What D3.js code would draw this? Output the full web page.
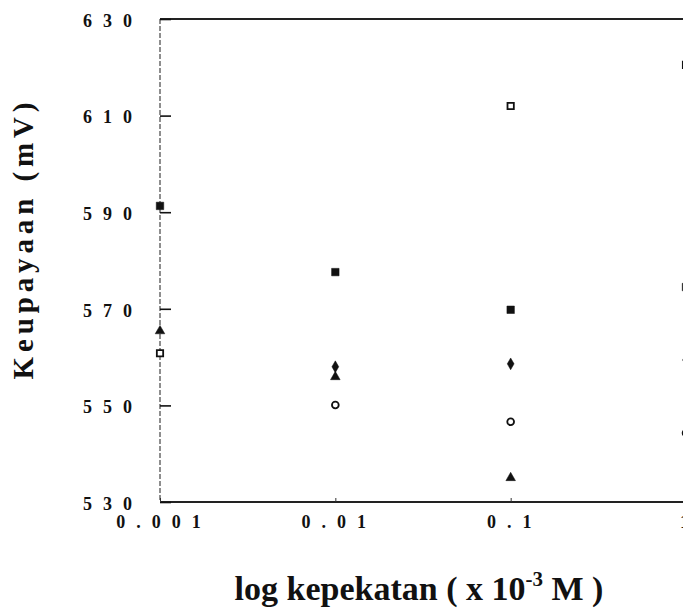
<!DOCTYPE html>
<html>
<head>
<meta charset="utf-8">
<script src="https://cdn.jsdelivr.net/npm/d3@7"></script>
<style>
    body { margin: 0; background: #fff; }
    svg text { font-family: "Liberation Serif", "Times New Roman", serif; font-weight: bold; fill: #111; }
</style>
</head>
<body>
<div id="chart"></div>
<script>
// Data (mV), one value per concentration
const concentrations = [0.001, 0.01, 0.1, 1];
const filledSquare   = [591.3, 577.6, 569.8, 574.5];
const openSquare     = [560.8, null, 612.0, 620.5];
const filledTriangle = [565.4, 555.9, 535.0, null];
const filledDiamond  = [null, 558.0, 558.6, 559.4];
const openCircle     = [null, 550.1, 546.6, 544.3];

const yTicks = [530, 550, 570, 590, 610, 630];
const xTicks = [0.001, 0.01, 0.1, 1];
const xTickLabels = ["0.001", "0.01", "0.1", "1"];

// Marker style for each series
const series = [
    { values: filledSquare,   symbol: d3.symbolSquare,   size: 56, fill: "#111" },
    { values: openSquare,     symbol: d3.symbolSquare,   size: 40, fill: "#fff" },
    { values: filledTriangle, symbol: d3.symbolTriangle, size: 40, fill: "#111" },
    { values: filledDiamond,  symbol: d3.symbolDiamond,  size: 40, fill: "#111" },
    { values: openCircle,     symbol: d3.symbolCircle,   size: 36, fill: "#fff" }
];

const width = 683, height = 610;
const plot = { left: 160, right: 686, top: 19, bottom: 502 };

const svg = d3.select("#chart").append("svg")
    .attr("width", width)
    .attr("height", height);

svg.append("rect").attr("width", width).attr("height", height).attr("fill", "#fff");

const x = d3.scaleLog()
    .domain([0.001, 1])
    .range([plot.left, plot.right]);

const y = d3.scaleLinear()
    .domain([530, 630])
    .range([plot.bottom, plot.top]);

// Frame lines
svg.append("line")
    .attr("x1", plot.left).attr("x2", width + 10)
    .attr("y1", plot.top).attr("y2", plot.top)
    .attr("stroke", "#222").attr("stroke-width", 2);
svg.append("line")
    .attr("x1", plot.left).attr("x2", width + 10)
    .attr("y1", plot.bottom).attr("y2", plot.bottom)
    .attr("stroke", "#222").attr("stroke-width", 2);
svg.append("line")
    .attr("x1", plot.left).attr("x2", plot.left)
    .attr("y1", plot.top).attr("y2", plot.bottom)
    .attr("stroke", "#444").attr("stroke-width", 1.2)
    .attr("stroke-dasharray", "5,2");

// Y axis (inner ticks, spaced digits)
const yAxis = svg.append("g")
    .attr("transform", `translate(${plot.left},0)`)
    .call(d3.axisLeft(y).tickValues(yTicks).tickSize(-11).tickPadding(17).tickFormat(d => d));
yAxis.select(".domain").remove();
yAxis.selectAll(".tick line").attr("stroke", "#111").attr("stroke-width", 1.6);
yAxis.selectAll(".tick text")
    .style("font-size", "18px")
    .style("letter-spacing", "11px")
    .attr("dy", "0.4em");

// X axis
const xAxis = svg.append("g")
    .attr("transform", `translate(0,${plot.bottom})`)
    .call(d3.axisBottom(x).tickValues(xTicks).tickSize(-4).tickPadding(13)
        .tickFormat((d, i) => xTickLabels[i]));
xAxis.select(".domain").remove();
xAxis.selectAll(".tick line").attr("stroke", "#333").attr("stroke-width", 1);
xAxis.selectAll(".tick text")
    .style("font-size", "18px")
    .style("letter-spacing", "11px")
    .attr("dx", 3.5);

// Points
series.forEach(s => {
    const pts = concentrations
        .map((c, i) => ({ c: c, v: s.values[i] }))
        .filter(d => d.v !== null);
    svg.append("g")
        .selectAll("path")
        .data(pts)
        .enter()
        .append("path")
        .attr("transform", d => `translate(${x(d.c)},${y(d.v)})`)
        .attr("d", d3.symbol().type(s.symbol).size(s.size))
        .attr("fill", s.fill)
        .attr("stroke", "#111")
        .attr("stroke-width", s.fill === "#fff" ? 1.8 : 0.5);
});

// Y title
svg.append("text")
    .attr("transform", "translate(33,241) rotate(-90)")
    .attr("text-anchor", "middle")
    .attr("textLength", 277)
    .attr("lengthAdjust", "spacing")
    .style("font-size", "29px")
    .text("Keupayaan (mV)");

// X title
const xTitle = svg.append("text")
    .attr("x", (plot.left + plot.right) / 2 - 4)
    .attr("y", 600)
    .attr("text-anchor", "middle")
    .style("font-size", "34px");
xTitle.append("tspan").text("log kepekatan ( x 10");
xTitle.append("tspan").attr("dy", -14).style("font-size", "21px").text("-3");
xTitle.append("tspan").attr("dy", 14).text(" M )");
</script>
</body>
</html>
